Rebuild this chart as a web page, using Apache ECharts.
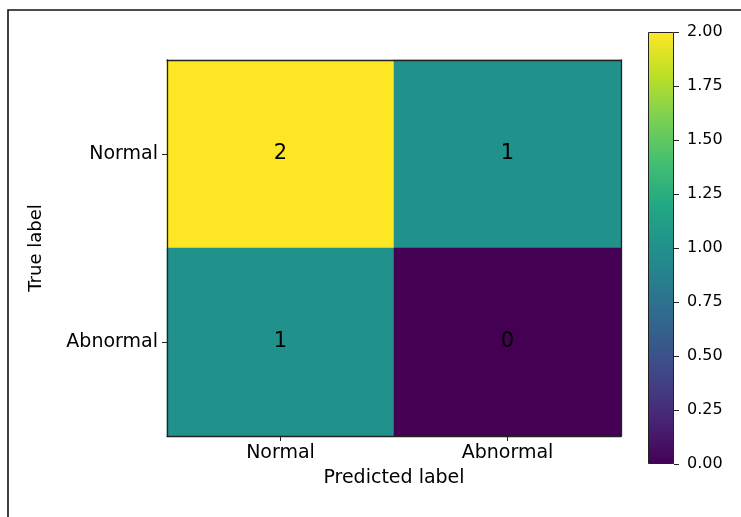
<!DOCTYPE html>
<html>
<head>
<meta charset="utf-8">
<script src="https://cdn.jsdelivr.net/npm/echarts@6/dist/echarts.min.js"></script>
<style>
  html, body { margin: 0; padding: 0; background: #fff; }
  #chart { width: 741px; height: 517px; }
</style>
</head>
<body>
<div id="chart"></div>
<script>
// labels of the confusion matrix
var predLabels = ['Normal', 'Abnormal'];
var trueLabels = ['Normal', 'Abnormal'];
// counts, one row per true label
var rowNormal = [2, 1];
var rowAbnormal = [1, 0];
// colorbar
var cbMin = 0;
var cbMax = 2;
var cbStep = 0.25;
// viridis
var viridis = ['#440154', '#482475', '#414487', '#355f8d', '#2a788e', '#21918c',
               '#22a884', '#44bf70', '#7ad151', '#bddf26', '#fde725'];

// build heatmap cells [x, y, value]
var cells = [];
[rowNormal, rowAbnormal].forEach(function (row, yi) {
  row.forEach(function (v, xi) { cells.push([xi, yi, v]); });
});

var font = 'DejaVu Sans';
var spine = { show: true, lineStyle: { color: '#222', width: 1.3 } };

var option = {
  animation: false,
  backgroundColor: '#fff',
  textStyle: { fontFamily: font },
  grid: [
    { left: 167, top: 60, right: 120, bottom: 81 },
    { left: 648, top: 32, width: 26, height: 432 }
  ],
  xAxis: [
    {
      type: 'category', gridIndex: 0, data: predLabels, position: 'bottom', z: 10,
      axisLine: spine,
      axisTick: { show: true, alignWithLabel: true, length: 5, lineStyle: { color: '#222' } },
      axisLabel: { fontSize: 19, color: '#000', margin: 8, fontFamily: font },
      name: 'Predicted label', nameLocation: 'middle', nameGap: 33,
      nameTextStyle: { fontSize: 19, color: '#000', fontFamily: font },
      splitLine: { show: false }
    },
    {
      type: 'category', gridIndex: 0, data: predLabels, position: 'top', z: 10,
      axisLine: spine, axisTick: { show: false }, axisLabel: { show: false }
    },
    {
      type: 'category', gridIndex: 1, data: [''],
      axisLine: { show: false }, axisTick: { show: false }, axisLabel: { show: false }
    }
  ],
  yAxis: [
    {
      type: 'category', gridIndex: 0, data: trueLabels, inverse: true, position: 'left', z: 10,
      axisLine: spine,
      axisTick: { show: true, alignWithLabel: true, length: 5, lineStyle: { color: '#222' } },
      axisLabel: { fontSize: 19, color: '#000', margin: 9, fontFamily: font },
      name: 'True label', nameLocation: 'middle', nameGap: 122, nameRotate: 90,
      nameTextStyle: { fontSize: 18, color: '#000', fontFamily: font },
      splitLine: { show: false }
    },
    {
      type: 'category', gridIndex: 0, data: trueLabels, inverse: true, position: 'right', z: 10,
      axisLine: spine, axisTick: { show: false }, axisLabel: { show: false }
    },
    {
      type: 'value', gridIndex: 1, min: cbMin, max: cbMax, interval: cbStep, position: 'right',
      axisLine: { show: false },
      axisTick: { show: true, length: 5, lineStyle: { color: '#222' } },
      axisLabel: {
        fontSize: 16, color: '#000', margin: 13, fontFamily: font,
        formatter: function (v) { return v.toFixed(2); }
      },
      splitLine: { show: false }
    }
  ],
  visualMap: {
    show: false, min: cbMin, max: cbMax, seriesIndex: 0, dimension: 2,
    inRange: { color: viridis }
  },
  series: [
    {
      type: 'heatmap', xAxisIndex: 0, yAxisIndex: 0, data: cells,
      label: {
        show: true, fontSize: 21, color: '#000', fontFamily: font,
        formatter: function (p) { return String(p.value[2]); }
      },
      emphasis: { disabled: true }
    },
    {
      type: 'bar', xAxisIndex: 2, yAxisIndex: 2, data: [cbMax], barWidth: '100%',
      silent: true,
      itemStyle: {
        borderColor: '#222', borderWidth: 1,
        color: {
          type: 'linear', x: 0, y: 1, x2: 0, y2: 0,
          colorStops: viridis.map(function (c, i) {
            return { offset: i / (viridis.length - 1), color: c };
          })
        }
      }
    }
  ],
  graphic: [
    {
      type: 'polyline', silent: true,
      shape: { points: [[8, 517], [8, 10], [741, 10]] },
      style: { stroke: '#111', lineWidth: 1.6, fill: null }
    }
  ]
};

var myChart = echarts.init(document.getElementById('chart'));
myChart.setOption(option);
</script>
</body>
</html>
